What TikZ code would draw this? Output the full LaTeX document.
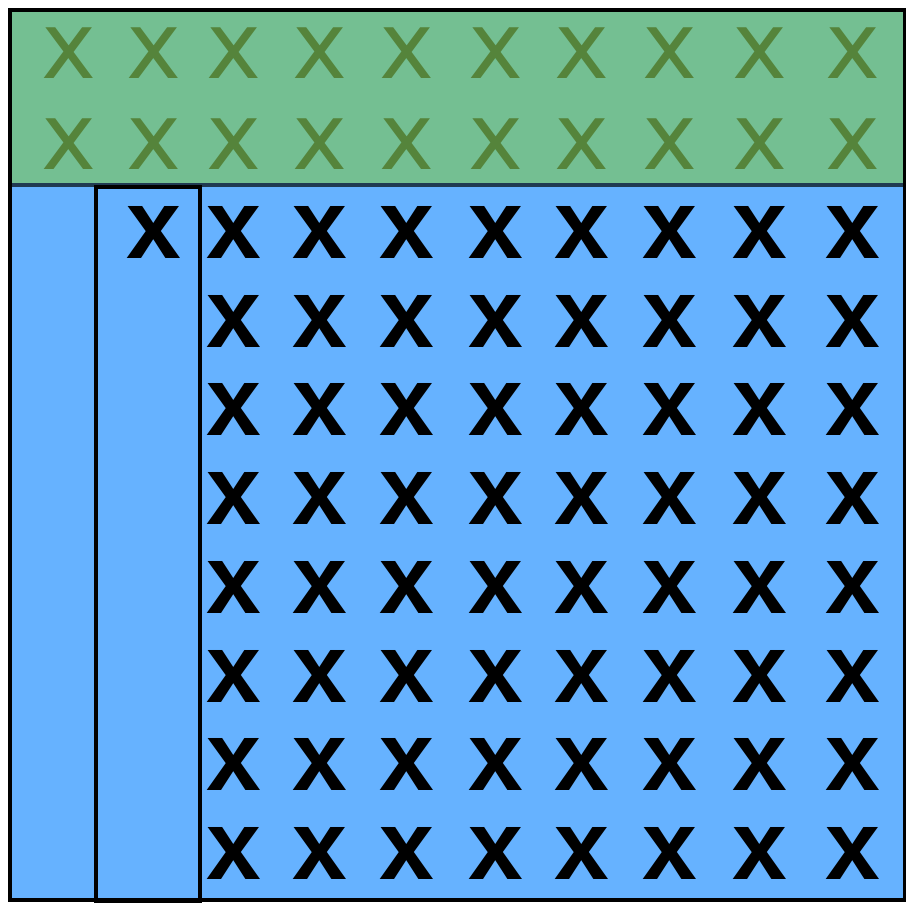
\documentclass[tikz,border=0pt]{standalone}
\usepackage{fontspec}
\setmainfont{DejaVu Sans}
\newfontfamily\boldx{Liberation Sans}
\usepackage{tikz}
\usetikzlibrary{positioning}
\definecolor{gridgreen}{RGB}{116,191,146}
\definecolor{gridgreenx}{RGB}{85,132,59}
\definecolor{gridblue}{RGB}{102,178,255}
\definecolor{gridseam}{RGB}{32,58,82}
\tikzset{
  band/.style={draw=black, line width=3.4pt, fill=gridgreen},
  field/.style={draw=black, line width=3.4pt, fill=gridblue},
  strip/.style={draw=black, line width=3pt},
  gx/.style={inner sep=0pt, text=gridgreenx,
    font=\fontsize{66}{66}\selectfont},
  bx/.style={inner sep=0pt, text=black,
    font=\boldx\fontsize{70}{70}\selectfont\bfseries}
}

\begin{document}
\begin{tikzpicture}[x=0.025cm, y=-0.025cm]
\useasboundingbox (0,0) rectangle (906,902);

% background areas
\path[field] (10,185) rectangle (905,900);
\path[band]  (10,10)  rectangle (905,185);
\draw[gridseam, line width=3pt] (12,185) -- (903,185);
\node[strip, minimum width=104*0.025cm, minimum height=715*0.025cm,
      inner sep=0pt, anchor=north west] (col) at (94,185) {};

% top band
\foreach \c [count=\i] in {69,154,234,320,407,496,582,670,760,853}{
  \node[gx] (g1-\i) at (\c,53.5)  {x};
  \node[gx] (g2-\i) at (\c,144.5) {x};
}

% lower field
\node[bx] (b1-2) at (154,232.5) {x};
\foreach \c [count=\i from 3] in {234,320,407,496,582,670,760,853}{
  \foreach \r in {1,...,8}{
    \node[bx] (b\r-\i) at (\c,{232.5+88.7*(\r-1)}) {x};
  }
}
\end{tikzpicture}
\end{document}
